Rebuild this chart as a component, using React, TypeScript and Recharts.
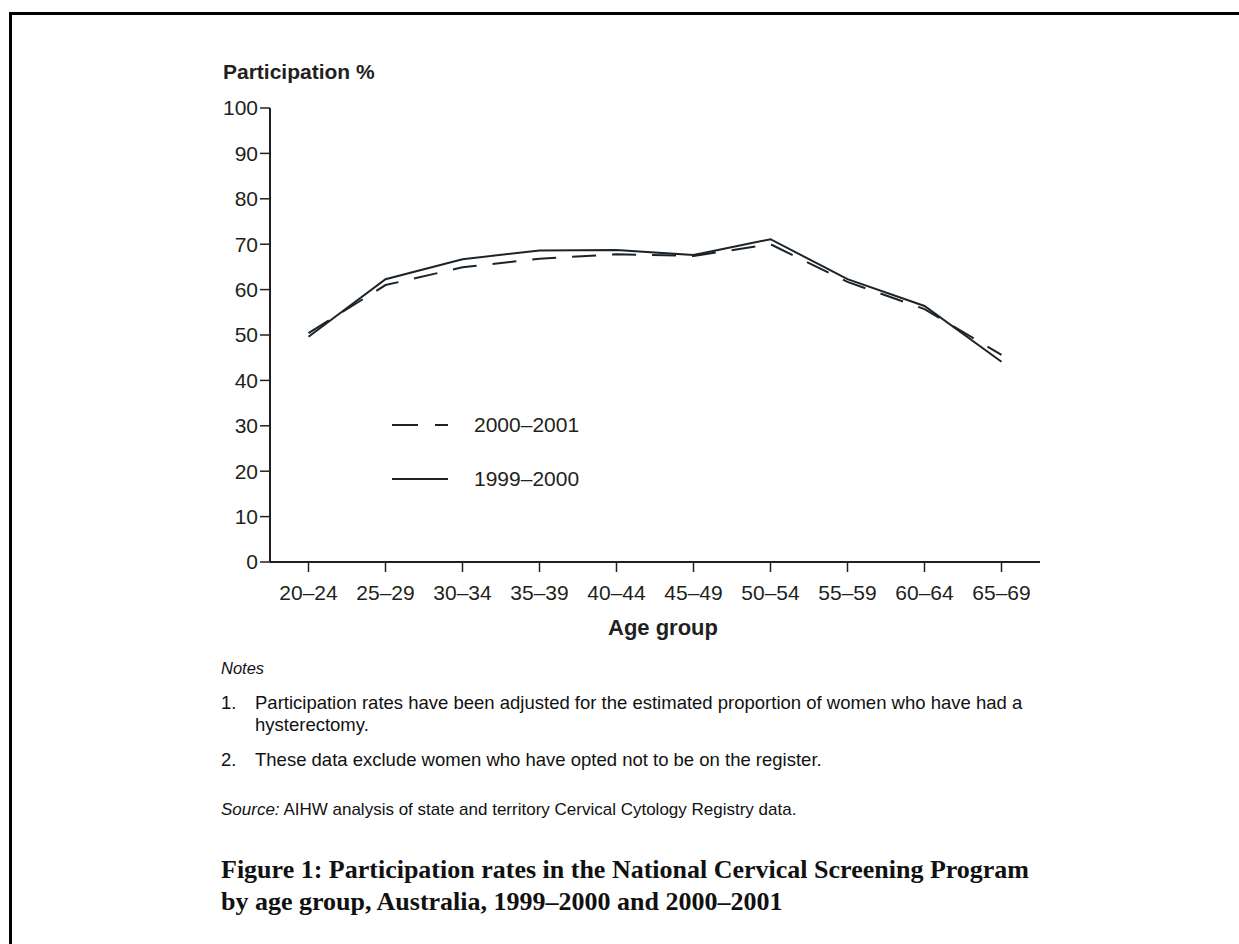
import React from 'react';
import { LineChart, Line, XAxis, YAxis, Legend } from 'recharts';

const ageGroups = ['20–24', '25–29', '30–34', '35–39', '40–44', '45–49', '50–54', '55–59', '60–64', '65–69'];
const rates1999 = [49.6, 62.3, 66.7, 68.6, 68.7, 67.6, 71.1, 62.3, 56.4, 44.1];
const rates2000 = [50.4, 61.0, 64.9, 66.8, 67.8, 67.4, 70.0, 61.7, 55.7, 45.6];
const yTicks = [0, 10, 20, 30, 40, 50, 60, 70, 80, 90, 100];

const seriesOrder = ['r2000', 'r1999'];
const seriesNames: Record<string, string> = { r1999: '1999–2000', r2000: '2000–2001' };

const data = ageGroups.map((g, i) => ({ age: g, r1999: rates1999[i], r2000: rates2000[i] }));

const INK = '#231f20';
const LINE = '#1b2329';
const SANS = '"Liberation Sans", Arial, Helvetica, sans-serif';

const renderLegend = (props: any) => {
  const payload = [...(props.payload || [])].sort(
    (a: any, b: any) => seriesOrder.indexOf(a.dataKey) - seriesOrder.indexOf(b.dataKey)
  );
  return (
    <div>
      {payload.map((p: any) => (
        <div key={p.dataKey} style={{ display: 'flex', alignItems: 'center', height: 54 }}>
          <svg width={82} height={10} style={{ display: 'block' }}>
            <line
              x1={0}
              y1={5}
              x2={56}
              y2={5}
              stroke={LINE}
              strokeWidth={2}
              strokeDasharray={p.payload.strokeDasharray ? '26 17' : undefined}
            />
          </svg>
          <span style={{ fontFamily: SANS, fontSize: 21, color: INK }}>{p.value}</span>
        </div>
      ))}
    </div>
  );
};

export default function App() {
  return (
    <div style={{ position: 'absolute', left: 0, top: 0, width: 1239, height: 944, background: '#fff', overflow: 'hidden' }}>
      <div
        style={{
          position: 'absolute',
          left: 9,
          top: 12,
          width: 1240,
          height: 940,
          borderTop: '3px solid #000',
          borderLeft: '3px solid #000',
        }}
      />
      <div style={{ position: 'absolute', left: 0, top: 0 }}>
        <LineChart
          width={1239}
          height={944}
          data={data}
          margin={{ top: 108, left: 200, right: 199, bottom: 322 }}
        >
          <XAxis
            dataKey="age"
            height={60}
            padding={{ left: 38.5, right: 38.5 }}
            axisLine={{ stroke: INK, strokeWidth: 2 }}
            tickLine={{ stroke: INK, strokeWidth: 1.5 }}
            tickSize={10}
            tickMargin={13}
            tick={{ fill: INK, fontSize: 21, fontFamily: SANS }}
            interval={0}
          />
          <YAxis
            width={70}
            domain={[0, 100]}
            ticks={yTicks}
            axisLine={{ stroke: INK, strokeWidth: 2 }}
            tickLine={{ stroke: INK, strokeWidth: 1.5 }}
            tickSize={10}
            tickMargin={2}
            tick={{ fill: INK, fontSize: 21, fontFamily: SANS }}
            interval={0}
          />
          <Legend
            layout="vertical"
            align="center"
            verticalAlign="middle"
            content={renderLegend}
            wrapperStyle={{ left: 392, top: 398, width: 260, height: 108 }}
          />
          <Line
            type="linear"
            dataKey="r2000"
            name={seriesNames.r2000}
            stroke={LINE}
            strokeWidth={2}
            strokeDasharray="24 16"
            dot={false}
            activeDot={false}
            isAnimationActive={false}
          />
          <Line
            type="linear"
            dataKey="r1999"
            name={seriesNames.r1999}
            stroke={LINE}
            strokeWidth={2}
            dot={false}
            activeDot={false}
            isAnimationActive={false}
          />
        </LineChart>
      </div>
      <div style={{ position: 'absolute', left: 223, top: 60, fontFamily: SANS, fontWeight: 'bold', fontSize: 21, color: INK, whiteSpace: 'nowrap' }}>
        Participation %
      </div>
      <div style={{ position: 'absolute', left: 563, width: 200, top: 615, textAlign: 'center', fontFamily: SANS, fontWeight: 'bold', fontSize: 22, color: INK, whiteSpace: 'nowrap' }}>
        Age group
      </div>
      <div style={{ position: 'absolute', left: 221, top: 657, width: 960, fontFamily: SANS, color: '#111', lineHeight: '22px' }}>
        <div style={{ fontStyle: 'italic', fontSize: 16.5 }}>Notes</div>
        <div style={{ display: 'flex', marginTop: 13, fontSize: 18.5 }}>
          <div style={{ width: 34, flex: 'none' }}>1.</div>
          <div>
            Participation rates have been adjusted for the estimated proportion of women who have had a
            <br />
            hysterectomy.
          </div>
        </div>
        <div style={{ display: 'flex', marginTop: 13, fontSize: 18.5 }}>
          <div style={{ width: 34, flex: 'none' }}>2.</div>
          <div>These data exclude women who have opted not to be on the register.</div>
        </div>
        <div style={{ marginTop: 28, fontSize: 17 }}>
          <span style={{ fontStyle: 'italic' }}>Source:</span> AIHW analysis of state and territory Cervical Cytology Registry data.
        </div>
      </div>
      <div style={{ position: 'absolute', left: 221, top: 854, fontFamily: '"Liberation Serif", "Times New Roman", serif', fontWeight: 'bold', fontSize: 26, lineHeight: '32px', color: '#111', whiteSpace: 'nowrap' }}>
        Figure 1: Participation rates in the National Cervical Screening Program
        <br />
        by age group, Australia, 1999–2000 and 2000–2001
      </div>
    </div>
  );
}
